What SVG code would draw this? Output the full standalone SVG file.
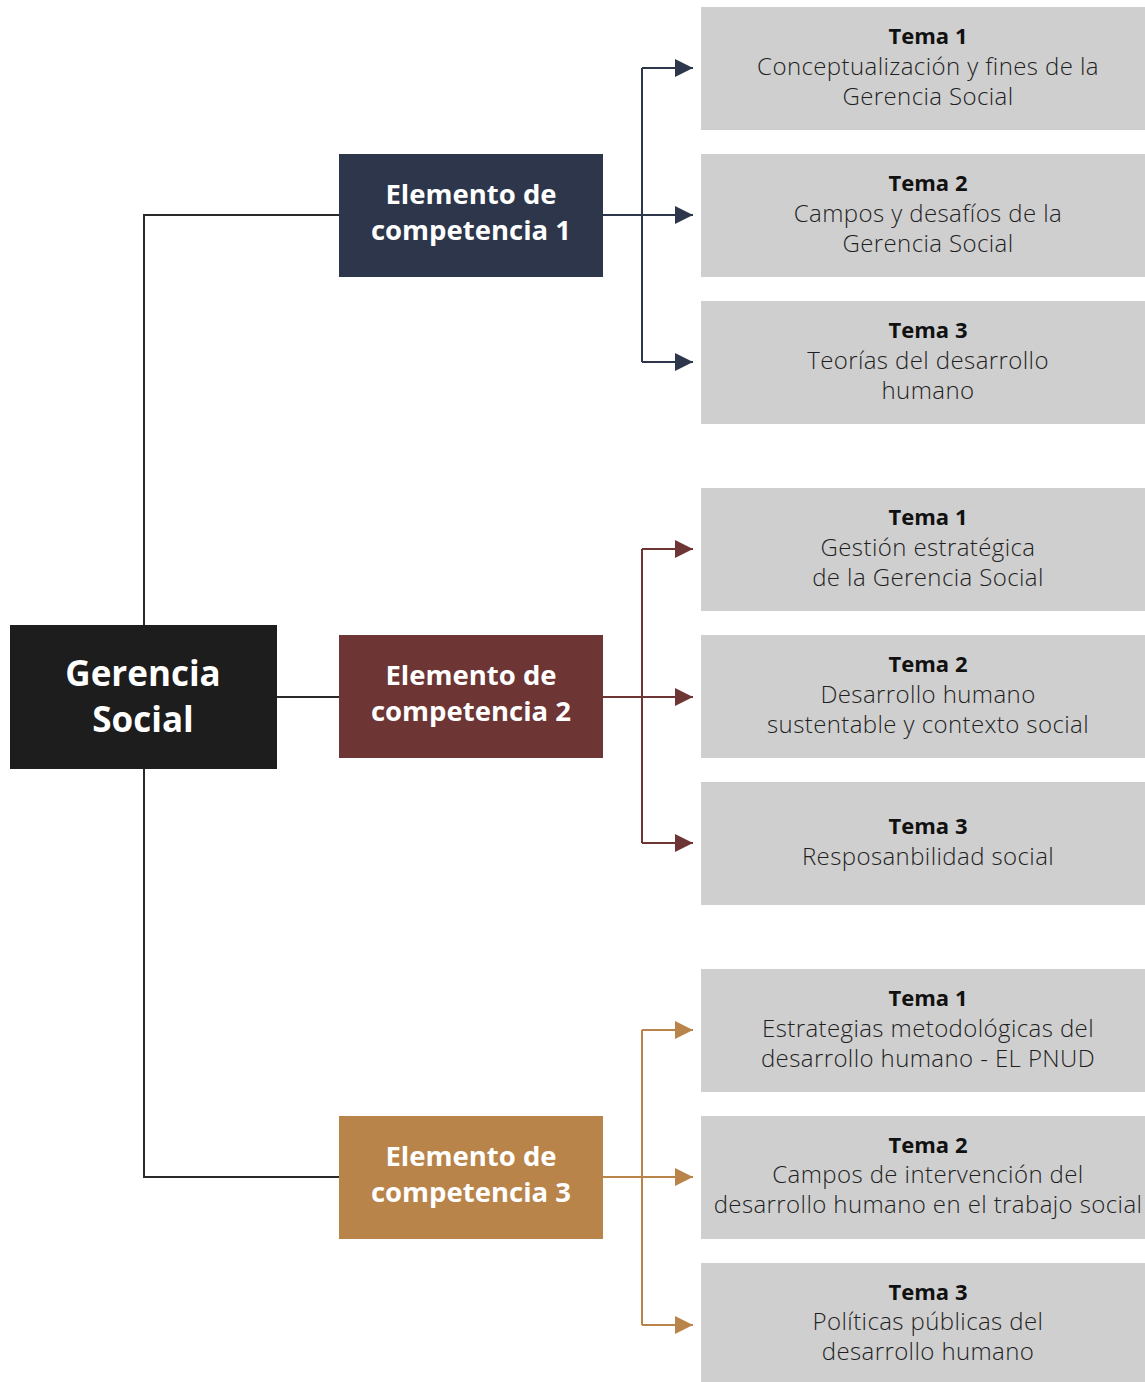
<svg xmlns="http://www.w3.org/2000/svg" width="1145" height="1382" viewBox="0 0 1145 1382">
<defs>
<style>
.tema rect{fill:#cfcfcf}
.th{font-family:"Open Sans","Noto Sans",sans-serif;font-weight:700;font-size:22px;fill:#111;text-anchor:middle}
.tb{font-family:"Open Sans","Noto Sans",sans-serif;font-weight:300;font-size:24px;letter-spacing:0.4px;fill:#1f1f1f;text-anchor:middle}
.ec{font-family:"Open Sans","Noto Sans",sans-serif;font-weight:700;font-size:27.5px;fill:#fff;text-anchor:middle}
.root{font-family:"Open Sans","Noto Sans",sans-serif;font-weight:700;font-size:35px;fill:#fff;text-anchor:middle}
.line{fill:none;stroke-width:2}
</style>
<marker id="a1" markerUnits="userSpaceOnUse" markerWidth="20" markerHeight="20" refX="18" refY="9" orient="auto"><path d="M0,0 L18,9 L0,18 Z" fill="#2d364b"/></marker>
<marker id="a2" markerUnits="userSpaceOnUse" markerWidth="20" markerHeight="20" refX="18" refY="9" orient="auto"><path d="M0,0 L18,9 L0,18 Z" fill="#6e3535"/></marker>
<marker id="a3" markerUnits="userSpaceOnUse" markerWidth="20" markerHeight="20" refX="18" refY="9" orient="auto"><path d="M0,0 L18,9 L0,18 Z" fill="#b9844a"/></marker>
</defs>
<rect width="1145" height="1382" fill="#fff"/>
<g id="connectors">
<path class="line" stroke="#2a2a2a" d="M339,215 H144 V1177 H339 M277,697 H339"/>
<path class="line" stroke="#2d364b" d="M603,215 H642 M642,68 V362"/>
<path class="line" stroke="#2d364b" marker-end="url(#a1)" d="M642,68 H693"/>
<path class="line" stroke="#2d364b" marker-end="url(#a1)" d="M642,215 H693"/>
<path class="line" stroke="#2d364b" marker-end="url(#a1)" d="M642,362 H693"/>
<path class="line" stroke="#6e3535" d="M603,697 H642 M642,549 V843"/>
<path class="line" stroke="#6e3535" marker-end="url(#a2)" d="M642,549 H693"/>
<path class="line" stroke="#6e3535" marker-end="url(#a2)" d="M642,697 H693"/>
<path class="line" stroke="#6e3535" marker-end="url(#a2)" d="M642,843 H693"/>
<path class="line" stroke="#b9844a" d="M603,1177 H642 M642,1030 V1325"/>
<path class="line" stroke="#b9844a" marker-end="url(#a3)" d="M642,1030 H693"/>
<path class="line" stroke="#b9844a" marker-end="url(#a3)" d="M642,1177 H693"/>
<path class="line" stroke="#b9844a" marker-end="url(#a3)" d="M642,1325 H693"/>
</g>
<g id="root">
<rect x="10" y="625" width="267" height="144" fill="#1d1d1d"/>
<text class="root" x="143" y="686">Gerencia</text>
<text class="root" x="143" y="732">Social</text>
</g>
<g id="ec1">
<rect x="339" y="154" width="264" height="123" fill="#2d364b"/>
<text class="ec" x="471" y="204">Elemento de</text>
<text class="ec" x="471" y="240">competencia 1</text>
</g>
<g id="ec2">
<rect x="339" y="635" width="264" height="123" fill="#6e3535"/>
<text class="ec" x="471" y="685">Elemento de</text>
<text class="ec" x="471" y="721">competencia 2</text>
</g>
<g id="ec3">
<rect x="339" y="1116" width="264" height="123" fill="#b9844a"/>
<text class="ec" x="471" y="1166">Elemento de</text>
<text class="ec" x="471" y="1202">competencia 3</text>
</g>
<g id="t11" class="tema">
<rect x="701" y="7" width="450" height="123"/>
<text class="th" x="928" y="44">Tema 1</text>
<text class="tb" x="928" y="75">Conceptualización y fines de la</text>
<text class="tb" x="928" y="105">Gerencia Social</text>
</g>
<g id="t12" class="tema">
<rect x="701" y="154" width="450" height="123"/>
<text class="th" x="928" y="191">Tema 2</text>
<text class="tb" x="928" y="222">Campos y desafíos de la</text>
<text class="tb" x="928" y="252">Gerencia Social</text>
</g>
<g id="t13" class="tema">
<rect x="701" y="301" width="450" height="123"/>
<text class="th" x="928" y="338">Tema 3</text>
<text class="tb" x="928" y="369">Teorías del desarrollo</text>
<text class="tb" x="928" y="399">humano</text>
</g>
<g id="t21" class="tema">
<rect x="701" y="488" width="450" height="123"/>
<text class="th" x="928" y="525">Tema 1</text>
<text class="tb" x="928" y="556">Gestión estratégica</text>
<text class="tb" x="928" y="586">de la Gerencia Social</text>
</g>
<g id="t22" class="tema">
<rect x="701" y="635" width="450" height="123"/>
<text class="th" x="928" y="672">Tema 2</text>
<text class="tb" x="928" y="703">Desarrollo humano</text>
<text class="tb" x="928" y="733">sustentable y contexto social</text>
</g>
<g id="t23" class="tema">
<rect x="701" y="782" width="450" height="123"/>
<text class="th" x="928" y="834">Tema 3</text>
<text class="tb" x="928" y="865">Resposanbilidad social</text>
</g>
<g id="t31" class="tema">
<rect x="701" y="969" width="450" height="123"/>
<text class="th" x="928" y="1006">Tema 1</text>
<text class="tb" x="928" y="1037">Estrategias metodológicas del</text>
<text class="tb" x="928" y="1067">desarrollo humano - EL PNUD</text>
</g>
<g id="t32" class="tema">
<rect x="701" y="1116" width="450" height="123"/>
<text class="th" x="928" y="1153">Tema 2</text>
<text class="tb" x="928" y="1183">Campos de intervención del</text>
<text class="tb" x="928" y="1213">desarrollo humano en el trabajo social</text>
</g>
<g id="t33" class="tema">
<rect x="701" y="1263" width="450" height="123"/>
<text class="th" x="928" y="1300">Tema 3</text>
<text class="tb" x="928" y="1330">Políticas públicas del</text>
<text class="tb" x="928" y="1360">desarrollo humano</text>
</g>
</svg>
